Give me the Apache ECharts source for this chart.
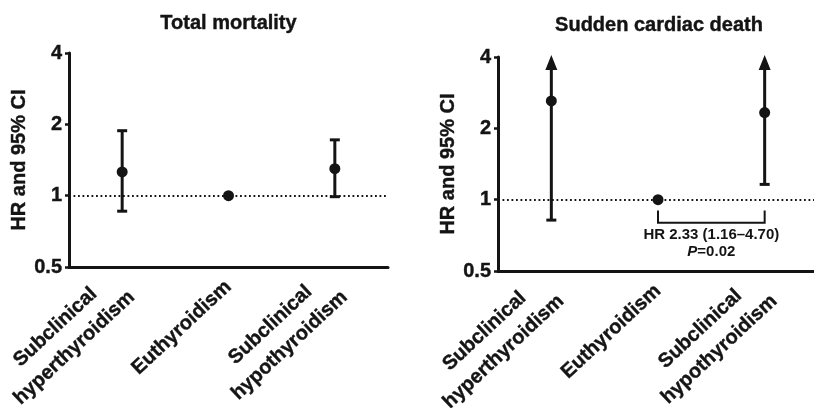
<!DOCTYPE html>
<html>
<head>
<meta charset="utf-8">
<script src="https://cdn.jsdelivr.net/npm/echarts@6/dist/echarts.min.js"></script>
<style>
  html, body { margin: 0; padding: 0; background: #ffffff; }
  #chart { width: 814px; height: 408px; }
</style>
</head>
<body>
<div id="chart"></div>
<script>
// Hazard ratios with 95% confidence intervals by thyroid status
const categories = ['Subclinical\nhyperthyroidism', 'Euthyroidism', 'Subclinical\nhypothyroidism'];

// Total mortality
const totalHR    = [1.26, 1.00, 1.30];
const totalLower = [0.86, 1.00, 0.99];
const totalUpper = [1.88, 1.00, 1.72];

// Sudden cardiac death
const scdHR    = [2.61, 1.00, 2.33];
const scdLower = [0.82, 1.00, 1.16];
const scdUpper = [7.20, 1.00, 4.70];
const scdPValue = '0.02';

// Comparison bracket (euthyroidism vs subclinical hypothyroidism), in HR units
const bracketCategories = [1, 2];
const bracketTop = 0.90;
const bracketBottom = 0.80;

// Log2 axis
const yTickLabels = ['0.5', '1', '2', '4'];
const yMin = 0.5;
const yMax = 4;
const referenceHR = 1;

const INK = '#141414';
const FONT = '"Liberation Sans", Arial, Helvetica, sans-serif';
// thin outline in the text colour to give the heavier look of the bold labels
const HEAVY = { textBorderColor: INK, textBorderWidth: 0.4 };

const chart = echarts.init(document.getElementById('chart'), null, { renderer: 'canvas' });

function ciData(hr, lo, hi) {
  return hr.map((v, i) => [i, v, lo[i], hi[i]]);
}

function renderCI(params, api) {
  const x = api.value(0);
  const lo = api.value(2);
  const hi = api.value(3);
  if (lo === hi) return { type: 'group', children: [] };
  const clipped = hi > yMax;
  const pLo = api.coord([x, lo]);
  const pHi = api.coord([x, clipped ? yMax : hi]);
  const capHalf = 5;
  const lineStyle = { stroke: INK, lineWidth: 3, lineCap: 'butt' };
  const children = [];
  if (clipped) {
    const tipY = pHi[1] - 2;
    const baseY = tipY + 15;
    children.push({ type: 'line', shape: { x1: pLo[0], y1: pLo[1], x2: pHi[0], y2: baseY }, style: lineStyle });
    children.push({
      type: 'polygon',
      shape: { points: [[pHi[0], tipY], [pHi[0] - 6, baseY], [pHi[0] + 6, baseY]] },
      style: { fill: INK }
    });
  } else {
    children.push({ type: 'line', shape: { x1: pLo[0], y1: pLo[1], x2: pHi[0], y2: pHi[1] }, style: lineStyle });
    children.push({ type: 'line', shape: { x1: pHi[0] - capHalf, y1: pHi[1], x2: pHi[0] + capHalf, y2: pHi[1] }, style: lineStyle });
  }
  children.push({ type: 'line', shape: { x1: pLo[0] - capHalf, y1: pLo[1], x2: pLo[0] + capHalf, y2: pLo[1] }, style: lineStyle });
  return { type: 'group', children };
}

function renderBracket(params, api) {
  const a = api.value(0), b = api.value(1);
  const top = api.value(2), bottom = api.value(3);
  const pA1 = api.coord([a, top]), pA2 = api.coord([a, bottom]);
  const pB1 = api.coord([b, top]), pB2 = api.coord([b, bottom]);
  const style = { stroke: INK, lineWidth: 2, fill: null };
  return {
    type: 'group',
    children: [
      { type: 'polyline', shape: { points: [pA1, pA2, pB2, pB1] }, style },
      {
        type: 'text',
        x: (pA2[0] + pB2[0]) / 2,
        y: pA2[1] + 4,
        style: {
          text: '{b|HR ' + scdHR[2].toFixed(2) + ' (' + scdLower[2].toFixed(2) + '\u2013' + scdUpper[2].toFixed(2) + ')}\n{i|P}{b|=' + scdPValue + '}',
          align: 'center',
          verticalAlign: 'top',
          rich: {
            b: { fontFamily: FONT, fontWeight: 'bold', fontSize: 15, lineHeight: 17, fill: INK },
            i: { fontFamily: FONT, fontWeight: 'bold', fontStyle: 'italic', fontSize: 15, lineHeight: 17, fill: INK }
          }
        }
      }
    ]
  };
}

function xAxisFor(gridIndex) {
  return {
    type: 'category',
    gridIndex,
    data: categories,
    boundaryGap: true,
    axisLine: { onZero: false, lineStyle: { color: INK, width: 3 } },
    axisTick: { alignWithLabel: true, length: 5, lineStyle: { color: INK, width: 2.5 } },
    axisLabel: {
      interval: 0,
      rotate: 43,
      margin: 17,
      formatter: v => v.split('\n').map(s => '{c|' + s + '}').join('\n'),
      rich: {
        c: Object.assign({ align: 'center', fontFamily: FONT, fontWeight: 'bold', fontSize: 20, lineHeight: 28, color: INK }, HEAVY)
      }
    },
    splitLine: { show: false }
  };
}

function yAxisFor(gridIndex) {
  return {
    type: 'log',
    logBase: 2,
    gridIndex,
    min: yMin,
    max: yMax,
    interval: 1,
    name: 'HR and 95% CI',
    nameLocation: 'middle',
    nameGap: 37,
    nameTextStyle: Object.assign({ fontFamily: FONT, fontWeight: 'bold', fontSize: 20, color: INK }, HEAVY),
    axisLine: { show: true, lineStyle: { color: INK, width: 3 } },
    axisTick: { show: true, length: 4, lineStyle: { color: INK, width: 2.5 } },
    axisLabel: Object.assign({
      margin: 7,
      padding: [7, 0, 0, 0],
      fontFamily: FONT, fontWeight: 'bold', fontSize: 20, color: INK,
      formatter: v => {
        const i = Math.round(Math.log2(v) - Math.log2(yMin));
        return yTickLabels[i] !== undefined ? yTickLabels[i] : String(v);
      }
    }, HEAVY),
    splitLine: { show: false }
  };
}

function pointSeries(idx, values) {
  return {
    type: 'scatter',
    xAxisIndex: idx,
    yAxisIndex: idx,
    data: values.map((v, i) => [i, v]),
    symbol: 'circle',
    symbolSize: 11,
    itemStyle: { color: INK, opacity: 1 },
    z: 5,
    markLine: {
      silent: true,
      symbol: 'none',
      label: { show: false },
      lineStyle: { color: INK, width: 1.8, type: [1.8, 2.7], opacity: 1 },
      data: [{ yAxis: referenceHR }],
      z: 1
    }
  };
}

const titleStyle = Object.assign({ align: 'center', verticalAlign: 'middle', fontFamily: FONT, fontWeight: 'bold', fontSize: 20, fill: INK, stroke: INK, lineWidth: 0.4 });

chart.setOption({
  backgroundColor: '#ffffff',
  animation: false,
  graphic: [
    { type: 'text', x: 228.5, y: 23, style: Object.assign({ text: 'Total mortality' }, titleStyle) },
    { type: 'text', x: 659, y: 25.5, style: Object.assign({ text: 'Sudden cardiac death' }, titleStyle) }
  ],
  grid: [
    { left: 69, top: 53, width: 319, height: 214, outerBoundsMode: 'none', containLabel: false },
    { left: 498, top: 57, width: 320, height: 214, outerBoundsMode: 'none', containLabel: false }
  ],
  xAxis: [xAxisFor(0), xAxisFor(1)],
  yAxis: [yAxisFor(0), yAxisFor(1)],
  series: [
    { type: 'custom', xAxisIndex: 0, yAxisIndex: 0, renderItem: renderCI, data: ciData(totalHR, totalLower, totalUpper), z: 3, clip: false },
    pointSeries(0, totalHR),
    { type: 'custom', xAxisIndex: 1, yAxisIndex: 1, renderItem: renderCI, data: ciData(scdHR, scdLower, scdUpper), z: 3, clip: false },
    pointSeries(1, scdHR),
    { type: 'custom', xAxisIndex: 1, yAxisIndex: 1, renderItem: renderBracket, data: [[bracketCategories[0], bracketCategories[1], bracketTop, bracketBottom]], z: 3, clip: false }
  ]
});
</script>
</body>
</html>
